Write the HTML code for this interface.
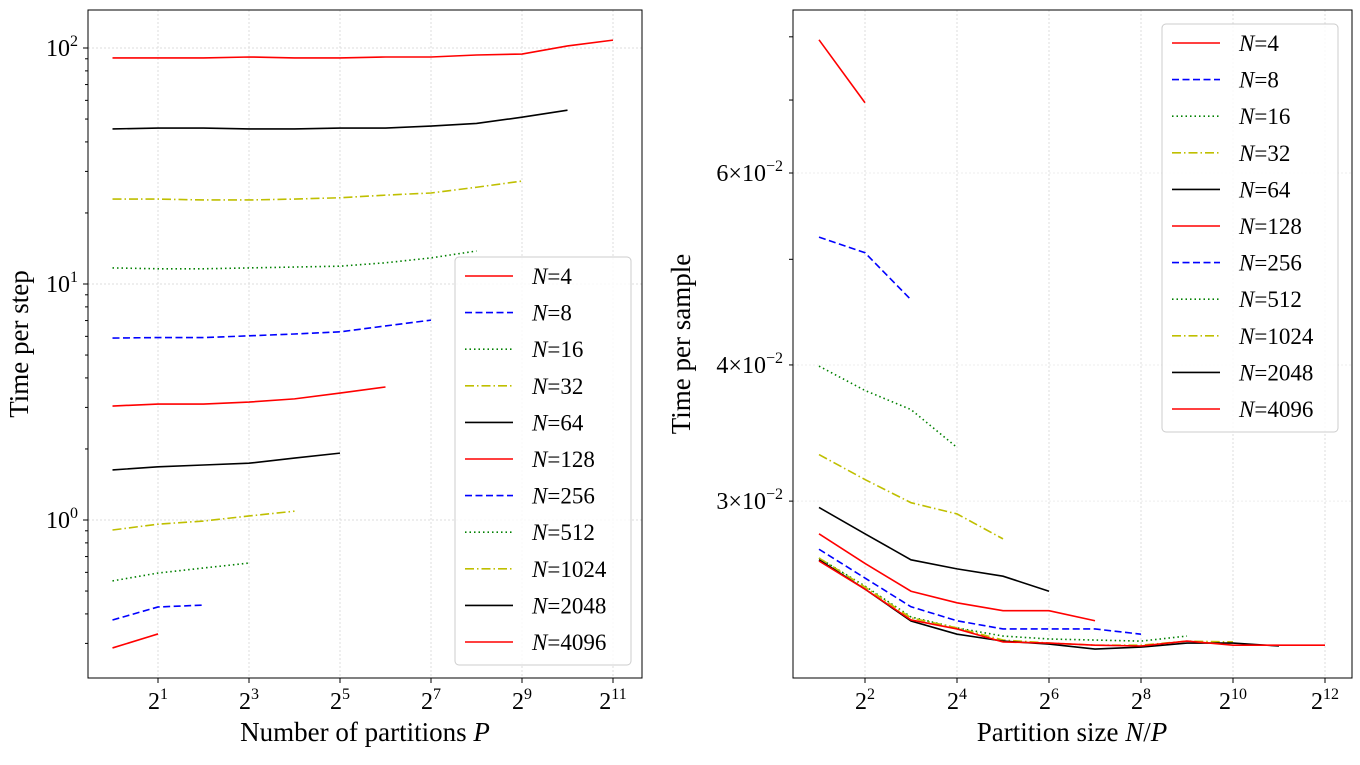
<!DOCTYPE html>
<html><head><meta charset="utf-8"><style>
body{margin:0;background:#fff}
svg{font-family:"Liberation Serif",serif}
</style></head><body>
<svg id="c" width="1360" height="760"></svg>
<script>
const leftP=[1,2,4,8,16,32,64,128,256,512,1024,2048];
const Ns=[4,8,16,32,64,128,256,512,1024,2048,4096];
const leftVals=[
[0.287,0.329],
[0.377,0.428,0.436],
[0.552,0.596,0.626,0.657],
[0.907,0.96,0.99,1.04,1.09],
[1.63,1.68,1.71,1.74,1.83,1.92],
[3.04,3.10,3.10,3.16,3.26,3.45,3.66],
[5.9,5.93,5.93,6.03,6.14,6.27,6.64,7.03],
[11.7,11.6,11.6,11.7,11.8,11.9,12.3,12.9,13.8],
[22.9,22.9,22.7,22.7,22.9,23.2,23.8,24.3,25.7,27.3],
[45.4,45.8,45.8,45.4,45.4,45.8,45.8,46.7,47.9,50.9,54.5],
[90.8,90.8,90.8,91.6,90.8,90.8,91.6,91.6,93.4,94.3,102,108]];
const rightX=[2,4,8,16,32,64,128,256,512,1024,2048,4096];
const rightVals=[
[0.0795,0.0696],
[0.0524,0.0507,0.0459],
[0.0399,0.0379,0.0364,0.0336],
[0.0331,0.0314,0.0299,0.0292,0.0277],
[0.0296,0.0280,0.0265,0.0260,0.0256,0.0248],
[0.0280,0.0263,0.0248,0.0242,0.0238,0.0238,0.0233],
[0.0271,0.0255,0.0240,0.0233,0.0229,0.0229,0.0229,0.02265],
[0.0266,0.02507,0.02349,0.02295,0.02256,0.02242,0.02237,0.02232,0.02256],
[0.0266,0.02502,0.02344,0.02295,0.02237,0.02223,0.02213,0.02213,0.02232,0.02228],
[0.0265,0.02491,0.02329,0.02265,0.02232,0.02218,0.02195,0.02204,0.02223,0.02223,0.02209],
[0.02644,0.02491,0.02334,0.0229,0.02228,0.02223,0.02213,0.02209,0.02232,0.02213,0.02213,0.02213]];
const colors=['#ff0000','#0000ff','#008000','#bfbf00','#000000'];
const dashes=['','7,3.5','1.5,3','9,3,1.5,3',''];
const NS='http://www.w3.org/2000/svg';
const svg=document.getElementById('c');
function el(t,a,p){const e=document.createElementNS(NS,t);for(const k in a)e.setAttribute(k,a[k]);(p||svg).appendChild(e);return e;}
const L=Math.log2,LG=Math.log10;
const lx=v=>112.5+45.5*L(v), ly=v=>520-236*LG(v);
const rx=v=>819+46*(L(v)-1), ry=v=>173-1090*(LG(v)-LG(0.06));
function frame(x0,y0,x1,y1,name){el('rect',{x:x0,y:y0,width:x1-x0,height:y1-y0,fill:'none',stroke:'#000','stroke-width':1,});}
function xtick(x,y,e,name){
  el('line',{x1:x,x2:x,y1:y,y2:y+5,stroke:'#000'});
  const t=el('text',{x:x,y:y+31,'font-size':24,'text-anchor':'middle'});
  
  t.appendChild(document.createTextNode('2'));
  const s=el('tspan',{'font-size':16,dy:-10},t);s.textContent=e;
}
const lg=el('g',{});
[1,3,5,7,9,11].forEach(e=>el('line',{x1:lx(2**e),x2:lx(2**e),y1:10,y2:678,stroke:'#ddd','stroke-dasharray':'2,2'},lg));
[1,10,100].forEach(v=>el('line',{x1:88,x2:642,y1:ly(v),y2:ly(v),stroke:'#ddd','stroke-dasharray':'2,2'},lg));
const gl=el('g',{});
leftVals.forEach((vals,i)=>{
  const pts=vals.map((v,j)=>lx(leftP[j])+','+ly(v)).join(' ');
  const p=el('polyline',{points:pts,fill:'none',stroke:colors[i%5],'stroke-width':1.6,'stroke-dasharray':dashes[i%5]},gl);
  
  
});
frame(88,10,642,678,'left-plot-area');
[1,3,5,7,9,11].forEach(e=>xtick(lx(2**e),678,e,'left-x-tick-label'));
for(let d=-1;d<=2;d++)for(let m=1;m<10;m++){const v=m*10**d,y=ly(v);if(y<10||y>678)continue;
  el('line',{x1:88,x2:m==1?83:85,y1:y,y2:y,stroke:'#000'});
  if(m==1){const t=el('text',{x:78,y:y+8,'font-size':24,'text-anchor':'end'});
    
    t.appendChild(document.createTextNode('10'));const s=el('tspan',{'font-size':16,dy:-10},t);s.textContent=d;}}
let t=el('text',{x:365,y:741,'font-size':27,'text-anchor':'middle',});
t.innerHTML='Number of partitions <tspan font-style="italic">P</tspan>';
t=el('text',{x:0,y:0,'font-size':27,'text-anchor':'middle',transform:'translate(28,344) rotate(-90)',});
t.textContent='Time per step';
const rg=el('g',{});
[2,4,6,8,10,12].forEach(e=>el('line',{x1:rx(2**e),x2:rx(2**e),y1:10,y2:678,stroke:'#ddd','stroke-dasharray':'2,2'},rg));
[0.03,0.04,0.06].forEach(v=>el('line',{x1:793,x2:1352,y1:ry(v),y2:ry(v),stroke:'#eee','stroke-dasharray':'2,2'},rg));
const gr=el('g',{});
rightVals.forEach((vals,i)=>{
  const pts=vals.map((v,j)=>rx(rightX[j])+','+ry(v)).join(' ');
  const p=el('polyline',{points:pts,fill:'none',stroke:colors[i%5],'stroke-width':1.6,'stroke-dasharray':dashes[i%5]},gr);
  
  
});
frame(793,10,1352,678,'right-plot-area');
[2,4,6,8,10,12].forEach(e=>xtick(rx(2**e),678,e,'right-x-tick-label'));
[0.03,0.04,0.05,0.06,0.07,0.08].forEach(v=>{const y=ry(v);el('line',{x1:793,x2:789,y1:y,y2:y,stroke:'#000'});
  if([0.03,0.04,0.06].includes(v)){const tt=el('text',{x:783,y:y+8,'font-size':24,'text-anchor':'end'});
   
   tt.appendChild(document.createTextNode(Math.round(v*100)+'×10'));const s=el('tspan',{'font-size':16,dy:-10},tt);s.textContent='−2';}});
t=el('text',{x:1072,y:741,'font-size':27,'text-anchor':'middle',});
t.innerHTML='Partition size <tspan font-style="italic">N</tspan>/<tspan font-style="italic">P</tspan>';
t=el('text',{x:0,y:0,'font-size':27,'text-anchor':'middle',transform:'translate(690,344) rotate(-90)',});
t.textContent='Time per sample';
function legend(x,y,name){
  const g=el('g',{});
  el('rect',{x:x,y:y,width:176,height:408,rx:4,fill:'#fff',stroke:'#ccc','fill-opacity':0.85},g);
  Ns.forEach((n,i)=>{const yy=y+19+i*36.6;
    const e=el('g',{},g);
    el('line',{x1:x+10,x2:x+58,y1:yy,y2:yy,stroke:colors[i%5],'stroke-width':1.6,'stroke-dasharray':dashes[i%5]},e);
    const tx=el('text',{x:x+77,y:yy+8,'font-size':23},e);
    tx.innerHTML='<tspan font-style="italic">N</tspan>='+n;});
}
legend(455,257,'left-legend');
legend(1162,24,'right-legend');
</script>
</body></html>
